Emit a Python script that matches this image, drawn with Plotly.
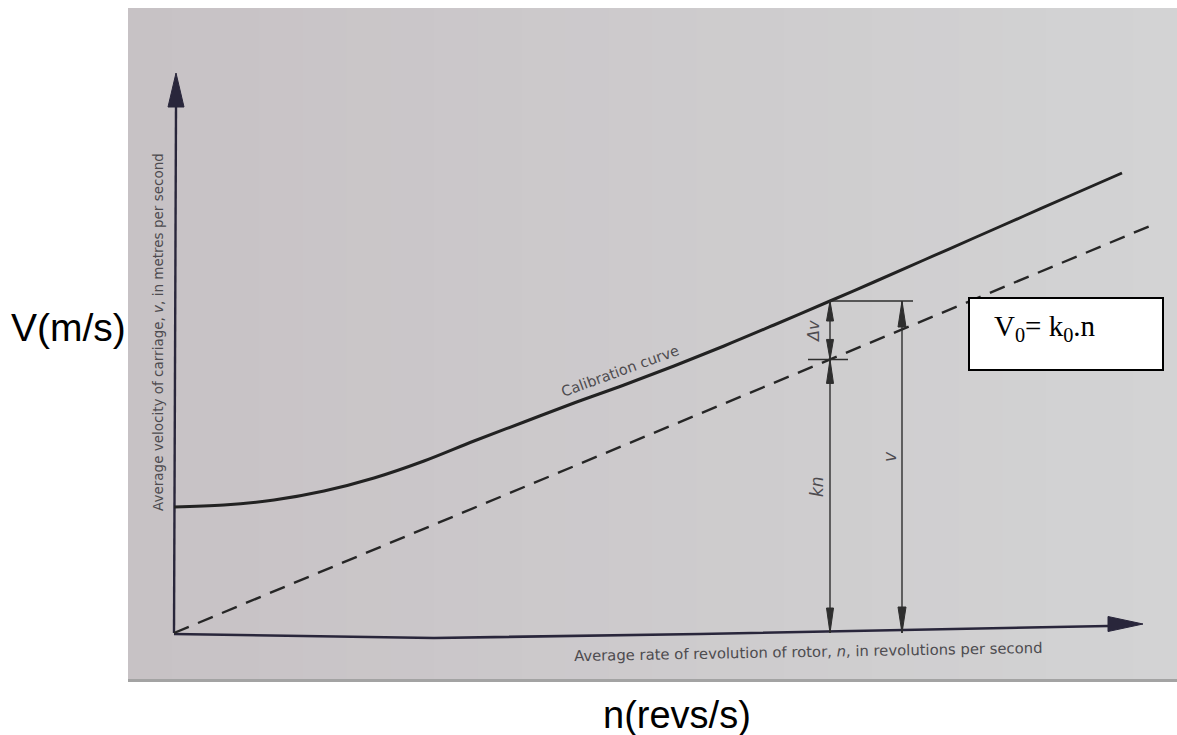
import plotly.graph_objects as go

# Calibration curve: rotor speed n (rev/s) against carriage velocity v (m/s)
n_cal = [0.0, 0.5, 1.0, 1.5, 2.0, 2.5, 3.0, 3.5, 4.0, 4.5, 5.0, 5.5, 6.0, 6.56,
         7.0, 7.5, 8.0, 8.5, 9.0, 9.48]
v_cal = [1.26, 1.28, 1.33, 1.42, 1.55, 1.72, 1.92, 2.11, 2.30, 2.48, 2.67, 2.87,
         3.08, 3.32, 3.51, 3.73, 3.95, 4.17, 4.39, 4.60]

# Ideal straight line v0 = k0 * n through the origin
k0 = 0.417
n_ideal = [0.0, 9.76]
v_ideal = [k0 * n for n in n_ideal]

# Hand-drawn axes (the n axis sags slightly)
n_xaxis = [0.0, 2.6, 5.26, 7.3, 9.34]
v_xaxis = [-0.01, -0.05, -0.01, 0.03, 0.07]
xaxis_tip = (9.69, 0.09)
n_yaxis = [0.0, 0.02]
v_yaxis = [0.0, 5.26]
yaxis_tip = (0.02, 5.60)

# Reading taken at one rotor speed
n_read = 6.56
v_read = v_cal[n_cal.index(n_read)]
kn_read = k0 * n_read
n_vdim = 7.28          # position of the dimension line for v

AX_COL = "#29263b"
INK = "#2e2e2e"
TXT = "#4d4b4f"
FONT = "DejaVu Sans"

fig = go.Figure()


def line(xs, ys, width, color, dash=None, shape="linear"):
    fig.add_trace(go.Scatter(x=xs, y=ys, mode="lines", hoverinfo="skip",
                             line=dict(width=width, color=color, dash=dash, shape=shape)))


def head(tip, direction, length, half, color):
    """Filled arrowhead; direction is 'up', 'down' or 'right'."""
    tx, ty = tip
    if direction == "up":
        xs = [tx - half, tx, tx + half, tx - half]
        ys = [ty - length, ty, ty - length, ty - length]
    elif direction == "down":
        xs = [tx - half, tx, tx + half, tx - half]
        ys = [ty + length, ty, ty + length, ty + length]
    else:
        xs = [tx - length, tx, tx - length, tx - length]
        ys = [ty - half, ty, ty + half, ty - half]
    fig.add_trace(go.Scatter(x=xs, y=ys, mode="lines", fill="toself", hoverinfo="skip",
                             fillcolor=color, line=dict(width=1, color=color)))


# axes
line(n_xaxis, v_xaxis, 2.6, AX_COL)
head(xaxis_tip, "right", 0.35, 0.075, AX_COL)
line(n_yaxis, v_yaxis, 2.4, AX_COL)
head(yaxis_tip, "up", 0.34, 0.08, AX_COL)

# curves
line(n_cal, v_cal, 3, "#222222", shape="spline")
line(n_ideal, v_ideal, 2.4, "#262626", dash="16px,10px")

# dimension lines
line([n_read, n_read], [0, v_read], 1.4, INK)
line([n_vdim, n_vdim], [0, v_read], 1.4, INK)
line([n_read, n_vdim + 0.11], [v_read, v_read], 1.4, INK)
line([n_read - 0.22, n_read + 0.18], [kn_read, kn_read], 1.4, INK)
head((n_read, v_read), "up", 0.2, 0.035, INK)
head((n_read, kn_read), "down", 0.2, 0.035, INK)
head((n_read, kn_read), "up", 0.24, 0.035, INK)
head((n_read, 0.0), "down", 0.25, 0.035, INK)
head((n_vdim, v_read), "up", 0.26, 0.04, INK)
head((n_vdim, 0.0), "down", 0.26, 0.04, INK)

# background: photographed page with a soft left-to-right shading
shapes = []
bands = 24
c0 = (199, 194, 197)
c1 = (211, 211, 212)
x_left, x_right = 128 / 1177, 1.0
for i in range(bands):
    t = i / (bands - 1)
    col = tuple(round(a + (b - a) * t) for a, b in zip(c0, c1))
    xa = x_left + (x_right - x_left) * i / bands
    xb = x_left + (x_right - x_left) * (i + 1) / bands
    shapes.append(dict(type="rect", xref="paper", yref="paper", layer="below",
                       x0=xa, x1=xb + 0.002, y0=1 - 682 / 735, y1=1 - 8 / 735,
                       fillcolor="rgb(%d,%d,%d)" % col, line=dict(width=0)))
shapes.append(dict(type="rect", xref="paper", yref="paper", layer="below",
                   x0=x_left, x1=1, y0=1 - 682 / 735, y1=1 - 679 / 735,
                   fillcolor="#a3a3a3", line=dict(width=0)))
# formula box
shapes.append(dict(type="rect", xref="x", yref="y", layer="above",
                   x0=7.95, x1=9.89, y0=2.63, y1=3.35,
                   fillcolor="white", line=dict(width=2, color="black")))


def label(text, x, y, size, angle=0, family=FONT, color=TXT, ref="data", xanchor="center"):
    ann = dict(text=text, x=x, y=y, textangle=angle, showarrow=False,
               xanchor=xanchor, yanchor="middle",
               font=dict(family=family, size=size, color=color))
    if ref == "paper":
        ann.update(xref="paper", yref="paper")
    return ann


annotations = [
    label("Calibration curve", 4.46, 2.62, 14.5, angle=-20),
    label("Average velocity of carriage, <i>v</i>, in metres per second",
          -0.16, 3.01, 13.5, angle=-90),
    label("Average rate of revolution of rotor, <i>n</i>, in revolutions per second",
          6.34, -0.18, 14.8, angle=-1),
    label("<i>Δv</i>", 6.39, 3.01, 16, angle=-90),
    label("<i>kn</i>", 6.43, 1.46, 17, angle=-90),
    label("<i>v</i>", 7.16, 1.76, 17, angle=-90),
    label("V<sub>0</sub>= k<sub>0</sub>.n", 8.18, 3.05, 29,
          family="Liberation Serif", color="black", xanchor="left"),
    label("V(m/s)", 68 / 1177, 1 - 327 / 735, 39, family="Liberation Sans",
          color="black", ref="paper"),
    label("n(revs/s)", 677 / 1177, 1 - 715 / 735, 38, family="Liberation Sans",
          color="black", ref="paper"),
]

fig.update_layout(
    width=1177, height=735,
    margin=dict(l=0, r=0, t=0, b=0),
    paper_bgcolor="white", plot_bgcolor="white",
    showlegend=False,
    xaxis=dict(range=[-1.74, 10.03], visible=False, fixedrange=True),
    yaxis=dict(range=[-1.02, 6.33], visible=False, fixedrange=True),
    shapes=shapes,
    annotations=annotations,
)

fig.write_html("out.html", config=dict(displayModeBar=False))
